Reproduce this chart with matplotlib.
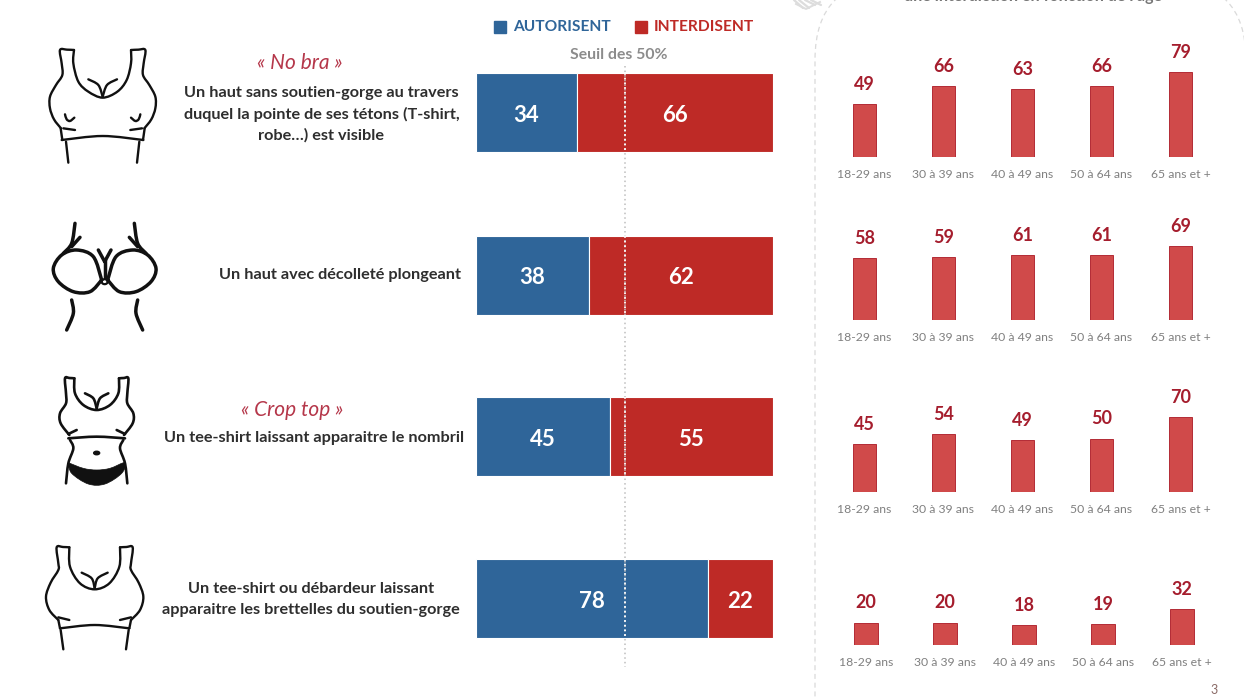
import matplotlib
matplotlib.use("Agg")
import matplotlib.pyplot as plt
import numpy as np
from matplotlib.path import Path
from matplotlib.patches import PathPatch, FancyBboxPatch, Rectangle, Ellipse

plt.rcParams['font.family'] = ['Lato', 'Open Sans', 'DejaVu Sans']

# ---------- data ----------
autorisent = [34, 38, 45, 78]
interdisent = [66, 62, 55, 22]
age_groups = ["18-29 ans", "30 à 39 ans", "40 à 49 ans", "50 à 64 ans", "65 ans et +"]
age_row1 = [49, 66, 63, 66, 79]
age_row2 = [58, 59, 61, 61, 69]
age_row3 = [45, 54, 49, 50, 70]
age_row4 = [20, 20, 18, 19, 32]
age_rows = [age_row1, age_row2, age_row3, age_row4]
threshold = 50

# ---------- colours ----------
BLUE = "#2F6599"; RED = "#BE2A26"; BAR2 = "#D04A4A"; BAR2E = "#B32B35"
LAB2 = "#A51D2D"; GREY = "#8C8C8C"; TXT = "#2E2E2E"; CAP = "#B5374A"

W, H = 1244, 700
fig = plt.figure(figsize=(W/100, H/100), dpi=100, facecolor="white")

def px_axes(x0, y0, x1, y1, **kw):
    return fig.add_axes([x0/W, 1-y1/H, (x1-x0)/W, (y1-y0)/H], **kw)

# overlay in pixel coordinates (annotations and icons)
ov = px_axes(0, 0, W, H, zorder=0)
ov.set_xlim(0, W); ov.set_ylim(H, 0); ov.axis("off")

# dashed panel and clipped heading
ov.add_patch(FancyBboxPatch((815, -20), 431, 800, boxstyle="round,pad=0,rounding_size=80",
                            fc="#FFFFFF", ec="#DADADA", lw=0.9, ls=(0, (4, 3))))
ov.text(1033, -3, "une interdiction en fonction de l'âge", ha="center", va="center",
        fontsize=11.6, fontweight="bold", color="#777777")
ov.text(1214, 690.5, "3", ha="center", va="center", fontsize=9, color="#8A6A66")

# faint ornament cut by the top edge
for x0, x1 in ((794, 803), (799, 809), (805, 815), (811, 821)):
    ov.plot([x0, x1], [0, 8 if x0 < 805 else 5], color="#DDDDDD", lw=1.6, solid_capstyle="round")
ov.plot([796, 806, 820], [4, 9, 2], color="#DDDDDD", lw=1.4)

# main stacked bars
row_centres = [112.5, 275.5, 436.5, 598.5]
bar_h = 79
ax = px_axes(476, 0, 773, H, zorder=2)
ax.patch.set_alpha(0)
ax.set_xlim(0, 100); ax.set_ylim(H, 0); ax.axis("off")
ax.barh(row_centres, autorisent, height=bar_h, color=BLUE, edgecolor="white", linewidth=0.8)
ax.barh(row_centres, interdisent, left=autorisent, height=bar_h, color=RED,
        edgecolor="white", linewidth=0.8)
for y, a, b in zip(row_centres, autorisent, interdisent):
    ax.text(a/2, y+2.5, str(a), ha="center", va="center", color="white", fontsize=16, fontweight="bold")
    ax.text(a+b/2, y+2.5, str(b), ha="center", va="center", color="white", fontsize=16, fontweight="bold")
ax.plot([threshold, threshold], [66, 667], color="#BDBDBD", lw=1.1, ls=(0, (1, 2)), zorder=1)
for y in row_centres:
    ax.plot([threshold, threshold], [y-bar_h/2, y+bar_h/2], color="white", lw=1.3,
            ls=(0, (1, 1.6)), zorder=3)

# legend and threshold caption
ov.add_patch(Rectangle((494, 20.5), 12, 12, color=BLUE))
ov.add_patch(Rectangle((635, 20.5), 12, 12, color=RED))
ov.text(513, 27, "AUTORISENT", va="center", fontsize=11.2, fontweight="bold", color=BLUE)
ov.text(654, 27, "INTERDISENT", va="center", fontsize=11.2, fontweight="bold", color=RED)
ov.text(619, 55, "Seuil des 50%", ha="center", va="center", fontsize=11.3, fontweight="bold", color=GREY)

# age panels
bases = [157, 320, 491.7, 645.3]
scales = [1.076, 1.07, 1.063, 1.14]
lefts = [825, 825, 825, 826.5]
for base, scale, left, vals in zip(bases, scales, lefts, age_rows):
    a = px_axes(left, base-107, left+395, base, zorder=2)
    a.patch.set_alpha(0)
    a.set_xlim(-0.5, 4.5); a.set_ylim(0, 107/scale)
    a.bar(range(5), vals, width=0.3, color=BAR2, edgecolor=BAR2E, linewidth=0.7)
    for i, v in enumerate(vals):
        a.annotate(str(v), (i, v), xytext=(0, 8), textcoords="offset points", ha="center",
                   va="bottom", fontsize=13, fontweight="bold", color=LAB2, clip_on=False)
    a.set_xticks(range(5)); a.set_xticklabels(age_groups, fontsize=8.8, color="#808080")
    a.tick_params(axis="x", length=0, pad=8.5)
    a.set_yticks([])
    for s in a.spines.values():
        s.set_visible(False)

# left captions
def cap(x, y, s, **kw):
    base = dict(ha="center", va="center", fontsize=11.7, fontweight="bold", color=TXT)
    base.update(kw)
    ov.text(x, y, s, **base)

cap(300, 63, "« No bra »", fontsize=15, fontweight="normal", style="italic", color=CAP)
cap(321.5, 93, "Un haut sans soutien-gorge au travers")
cap(321.5, 114, "duquel la pointe de ses tétons (T-shirt,")
cap(321.5, 135, "robe…) est visible")
cap(340, 275, "Un haut avec décolleté plongeant")
cap(292, 410, "« Crop top »", fontsize=15, fontweight="normal", style="italic", color=CAP)
cap(314, 438, "Un tee-shirt laissant apparaitre le nombril")
cap(311, 589, "Un tee-shirt ou débardeur laissant")
cap(311, 610, "apparaitre les brettelles du soutien-gorge")

# ---------- icons (smooth strokes given in zoom coordinates) ----------
def smooth(pts, closed=False):
    p = np.array(pts, float)
    if len(p) == 2:
        return Path(p)
    if closed:
        q = np.vstack([p[-2], p, p[1]])
    else:
        q = np.vstack([p[0], p, p[-1]])
    verts = [q[1]]; codes = [Path.MOVETO]
    for i in range(1, len(q)-2):
        verts += [q[i]+(q[i+1]-q[i-1])/6, q[i+1]-(q[i+2]-q[i])/6, q[i+1]]
        codes += [Path.CURVE4]*3
    return Path(verts, codes)

def stroke(pts, org, lw=1.7, closed=False):
    P = [(org[0]+x/3, org[1]+y/3) for x, y in pts]
    ov.add_patch(PathPatch(smooth(P, closed), fc="none", ec="#111111", lw=lw,
                           capstyle="round", joinstyle="round"))

def mirror(pts, cx):
    return [(2*cx-x, y) for x, y in pts]

# icon 1
o = (30, 30); c = 218
s1 = [(132,60),(111,59),(90,60),(95,100),(97,135),(78,165),(60,200),(60,235),(72,268),(93,295)]
for s in (s1, mirror(s1, c)):
    stroke(s, o)
stroke([(132,60),(130,100),(145,155),(175,185),(218,203),(262,185),(290,150),(303,100),(303,60)], o)
for s in ([(175,148),(205,165),(218,200)], [(100,295),(135,300)],
          [(105,253),(110,268),(120,273),(133,263)], [(92,295),(97,330)], [(108,335),(115,398)]):
    stroke(s, o); stroke(mirror(s, c), o)
stroke([(95,330),(218,318),(340,330)], o)

# icon 2
c = 224
cup = [(215,750),(180,785),(130,785),(85,755),(70,715),(95,675),(140,660),(190,680),(215,750)]
for s in (cup, [(135,580),(125,640),(100,670)], [(150,622),(125,650)],
          [(125,810),(130,850),(110,900)], [(205,660),(224,695)]):
    stroke(s, o, lw=2.5); stroke(mirror(s, c), o, lw=2.5)
stroke([(224,690),(224,745)], o, lw=2.5)
ov.add_patch(Ellipse((o[0]+224/3, o[1]+755/3), 6, 5, fc="none", ec="#111111", lw=1.6))

# icon 3
o = (30, 360); c = 200
s3 = [(133,55),(118,54),(105,55),(108,100),(108,130),(90,160),(92,190),(118,225)]
for s in (s3, [(165,100),(190,115),(200,145)], [(115,222),(140,210)],
          [(120,240),(130,265),(115,310),(108,370)]):
    stroke(s, o, lw=1.9); stroke(mirror(s, c), o, lw=1.9)
stroke([(133,55),(135,100),(160,135),(200,150),(240,135),(265,100),(267,55)], o, lw=1.9)
stroke([(115,235),(200,230),(285,235)], o, lw=1.9)
pant = [(115,308),(160,325),(200,330),(240,325),(285,308),(275,340),(225,372),(175,372),(125,340),(115,308)]
ov.add_patch(PathPatch(smooth([(o[0]+x/3, o[1]+y/3) for x, y in pant]), fc="#111111", ec="#111111", lw=0.5))
ov.add_patch(Ellipse((o[0]+200/3, o[1]+279/3), 6, 3.5, color="#111111"))

# icon 4
c = 194
s4 = [(118,562),(99,561),(80,562),(85,610),(85,630),(62,668),(48,710),(58,750),(85,780)]
for s in (s4, [(155,638),(185,655),(194,685)], [(85,772),(118,780)], [(85,780),(90,805)], [(92,810),(100,868)]):
    stroke(s, o); stroke(mirror(s, c), o)
stroke([(118,562),(120,620),(150,670),(194,688),(238,670),(268,620),(270,562)], o)
stroke([(90,805),(194,795),(298,805)], o)

fig.savefig("out.png", dpi=100, facecolor="white")
